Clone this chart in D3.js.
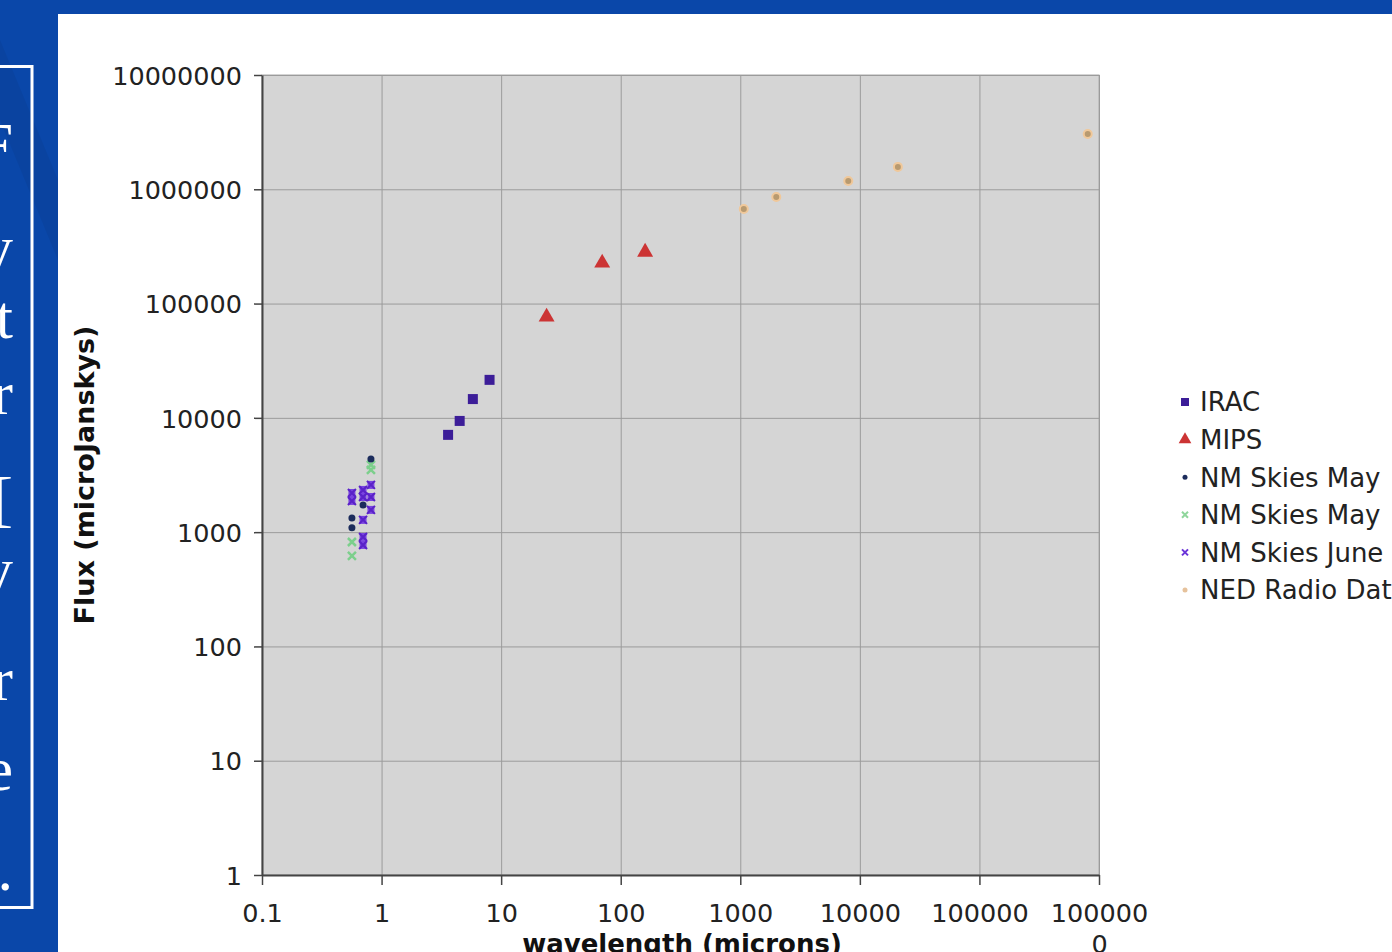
<!DOCTYPE html>
<html>
<head>
<meta charset="utf-8">
<script src="https://cdn.jsdelivr.net/npm/d3@7"></script>
<style>
  body { margin: 0; background: #0a47a9; overflow: hidden; }
  .axis text { font-family: "DejaVu Sans", Verdana, sans-serif; font-size: 25.5px; fill: #222; }
  .axis path { stroke: #444; stroke-width: 2; }
  .axis line { stroke: #444; stroke-width: 1.5; }
  .grid line { stroke: #9b9b9b; stroke-width: 1; }
  .grid path { display: none; }
  .legend text { font-family: "DejaVu Sans", Verdana, sans-serif; font-size: 26px; fill: #222; }
</style>
</head>
<body>
<div class="continer"></div>
<script>
var WIDTH = 1392;
var height = 952;

var translate = function (x, y) {
  return 'translate(' + x + ',' + y + ')';
};

// wavelength (microns) / flux (microJanskys)
var iracX = [3.6, 4.5, 5.8, 8.0];
var iracY = [7100, 9400, 14600, 21500];

var mipsX = [24, 70, 160];
var mipsY = [78000, 231000, 288000];

var nmMayX = [0.815, 0.565, 0.565, 0.70];
var nmMayY = [4370, 1330, 1090, 1730];

var nmMay2X = [0.815, 0.815, 0.565, 0.565];
var nmMay2Y = [3870, 3500, 820, 619];

var nmJuneX = [0.565, 0.565, 0.70, 0.70, 0.815, 0.815, 0.815, 0.70, 0.70, 0.70];
var nmJuneY = [2200, 1875, 2340, 2030, 2590, 2030, 1565, 1280, 908, 773];

var nedX = [1070, 2000, 8000, 20800, 805000];
var nedY = [673000, 857000, 1180000, 1570000, 3050000];

var xTicks = [0.1, 1, 10, 100, 1000, 10000, 100000, 1000000];
var yTicks = [1, 10, 100, 1000, 10000, 100000, 1000000, 10000000];

var legendNames = ['IRAC', 'MIPS', 'NM Skies May', 'NM Skies May', 'NM Skies June', 'NED Radio Dat'];

// cut-off slide text on the left
var sideChars = ['F', 'y', 't', 'r', '[', 'y', 'r', 'e', '.'];
var sideRows = [165, 268, 338, 414, 520, 590, 700, 790, 890];

var zip = function (xs, ys) {
  return xs.map(function (d, i) { return {x: d, y: ys[i]}; });
};

var loadChart = function() {
	var svg = d3.select('.continer').append('svg')
			.attr('width', WIDTH)
			.attr('height', height);

	// slide background
	svg.append('rect').attr('width', WIDTH).attr('height', height).attr('fill', '#0a47a9');
	svg.append('path')
			.attr('d', 'M0,40 L58,180 L58,260 L0,120 Z')
			.attr('fill', '#0a3f98').attr('opacity', 0.5);

	var clip = svg.append('clipPath').attr('id', 'sideclip');
	clip.append('rect').attr('x', 0).attr('y', 68).attr('width', 30).attr('height', 838);

	svg.append('rect')
			.attr('x', -10).attr('y', 66.5)
			.attr('width', 42).attr('height', 841)
			.attr('fill', 'none').attr('stroke', '#fff').attr('stroke-width', 3);

	svg.append('g').attr('clip-path', 'url(#sideclip)')
		.selectAll('text').data(sideChars).enter()
		.append('text')
		.attr('x', 13)
		.attr('y', function(d, i){return sideRows[i]})
		.attr('text-anchor', 'end')
		.attr('font-family', '"Liberation Serif", serif')
		.attr('font-size', 62)
		.attr('fill', '#fff')
		.text(function(d){return d});

	// white panel
	svg.append('rect')
			.attr('x', 58).attr('y', 14)
			.attr('width', WIDTH - 58).attr('height', height - 14)
			.attr('fill', '#fff');

	var xScale = d3.scaleLog()
		    .domain([0.1, 1000000])
		    .range([262, 1099]);

	var yScale = d3.scaleLog()
	    .domain([1, 10000000])
	    .range([875, 75]);

	svg.append('rect')
			.attr('x', xScale(0.1)).attr('y', yScale(10000000))
			.attr('width', xScale(1000000) - xScale(0.1))
			.attr('height', yScale(1) - yScale(10000000))
			.attr('fill', '#d5d5d5')
			.attr('stroke', '#aaa');

	svg.append('g')
			.attr('class', 'grid')
			.attr('transform', translate(0, 875))
			.call(d3.axisBottom(xScale).tickValues(xTicks).tickSize(-800).tickFormat(''));

	svg.append('g')
			.attr('class', 'grid')
			.attr('transform', translate(262, 0))
			.call(d3.axisLeft(yScale).tickValues(yTicks).tickSize(-837).tickFormat(''));

	var xAxis = d3.axisBottom(xScale).tickValues(xTicks).tickSize(10).tickSizeOuter(0)
			.tickFormat(function(d){ return d === 1000000 ? '' : (d < 1 ? '0.1' : d3.format('d')(d)); });
	var yAxis = d3.axisLeft(yScale).tickValues(yTicks).tickSize(8).tickSizeOuter(0)
			.tickFormat(d3.format('d'));

	var gx = svg.append('g')
			.attr('class', 'axis')
			.attr('transform', translate(0, 875))
			.call(xAxis);
	gx.selectAll('text').attr('dy', null).attr('y', 47);

	// last label wraps onto two lines
	var last = gx.selectAll('.tick').filter(function(d){return d === 1000000}).select('text');
	last.append('tspan').attr('x', 0).attr('y', 47).text('100000');
	last.append('tspan').attr('x', 0).attr('y', 78).text('0');

	var gy = svg.append('g')
			.attr('class', 'axis')
			.attr('transform', translate(262, 0))
			.call(yAxis);
	gy.selectAll('text').attr('x', -20).attr('dy', '0.36em');

	svg.append('text')
			.attr('x', 682).attr('y', 953)
			.attr('text-anchor', 'middle')
			.attr('font-family', '"DejaVu Sans", Verdana, sans-serif')
			.attr('font-weight', 'bold')
			.attr('font-size', 26)
			.attr('fill', '#111')
			.text('wavelength (microns)');

	svg.append('text')
			.attr('transform', translate(94, 475) + ' rotate(-90)')
			.attr('text-anchor', 'middle')
			.attr('font-family', '"DejaVu Sans", Verdana, sans-serif')
			.attr('font-weight', 'bold')
			.attr('font-size', 27)
			.attr('fill', '#111')
			.text('Flux (microJanskys)');

	var chartGroup = svg.append('g');

	var cross = function (sel, color, s, w) {
		sel.append('path')
			.attr('d', 'M' + (-s) + ',' + (-s) + 'L' + s + ',' + s + 'M' + (-s) + ',' + s + 'L' + s + ',' + (-s))
			.attr('stroke', color).attr('stroke-width', w).attr('fill', 'none');
	};

	// NM Skies June
	chartGroup.selectAll('.june').data(zip(nmJuneX, nmJuneY)).enter()
		.append('g').attr('class', 'june')
		.attr('transform', function(d){return translate(xScale(d.x), yScale(d.y))})
		.call(function(g){
			g.append('rect').attr('x', -3.5).attr('y', -4).attr('width', 7).attr('height', 8).attr('fill', '#7a44e0');
			cross(g, '#5a22c8', 4, 2);
		});

	// NM Skies May (green)
	chartGroup.selectAll('.may2').data(zip(nmMay2X, nmMay2Y)).enter()
		.append('g').attr('class', 'may2')
		.attr('transform', function(d){return translate(xScale(d.x), yScale(d.y))})
		.call(function(g){ cross(g, '#7ccf8c', 4, 2.5); });

	// NM Skies May (dots)
	chartGroup.selectAll('.may').data(zip(nmMayX, nmMayY)).enter()
		.append('circle').attr('class', 'may')
		.attr('cx', function(d){return xScale(d.x)})
		.attr('cy', function(d){return yScale(d.y)})
		.attr('r', 3.5)
		.attr('fill', '#1c2c5c');

	// IRAC
	chartGroup.selectAll('.irac').data(zip(iracX, iracY)).enter()
		.append('rect').attr('class', 'irac')
		.attr('x', function(d){return xScale(d.x) - 5})
		.attr('y', function(d){return yScale(d.y) - 5})
		.attr('width', 10).attr('height', 10)
		.attr('fill', '#3c1d98');

	// MIPS
	chartGroup.selectAll('.mips').data(zip(mipsX, mipsY)).enter()
		.append('path').attr('class', 'mips')
		.attr('d', d3.symbol().type(d3.symbolTriangle).size(110))
		.attr('transform', function(d){return translate(xScale(d.x), yScale(d.y) + 1)})
		.attr('fill', '#cc3434');

	// NED radio
	chartGroup.selectAll('.ned').data(zip(nedX, nedY)).enter()
		.append('circle').attr('class', 'ned')
		.attr('cx', function(d){return xScale(d.x)})
		.attr('cy', function(d){return yScale(d.y)})
		.attr('r', 4)
		.attr('fill', '#b89a70')
		.attr('stroke', '#f0c89a').attr('stroke-width', 2);

	// legend
	var legend = svg.append('g').attr('class', 'legend');
	var rows = legend.selectAll('g').data(legendNames).enter()
		.append('g')
		.attr('transform', function(d, i){return translate(1185, 402 + i * 37.6)});

	rows.append('text').attr('x', 15).attr('dy', '0.36em').text(function(d){return d});

	rows.each(function(d, i) {
		var g = d3.select(this);
		if (i === 0) g.append('rect').attr('x', -4).attr('y', -4).attr('width', 8).attr('height', 8).attr('fill', '#3c1d98');
		if (i === 1) g.append('path').attr('d', d3.symbol().type(d3.symbolTriangle).size(70)).attr('fill', '#cc3434');
		if (i === 2) g.append('circle').attr('r', 2.5).attr('fill', '#1c2c5c');
		if (i === 3) cross(g, '#8fd69c', 3, 2);
		if (i === 4) cross(g, '#6a33d8', 3, 2);
		if (i === 5) g.append('circle').attr('r', 2.5).attr('fill', '#e6c29c');
	});
};

window.onload = loadChart;
</script>
</body>
</html>
